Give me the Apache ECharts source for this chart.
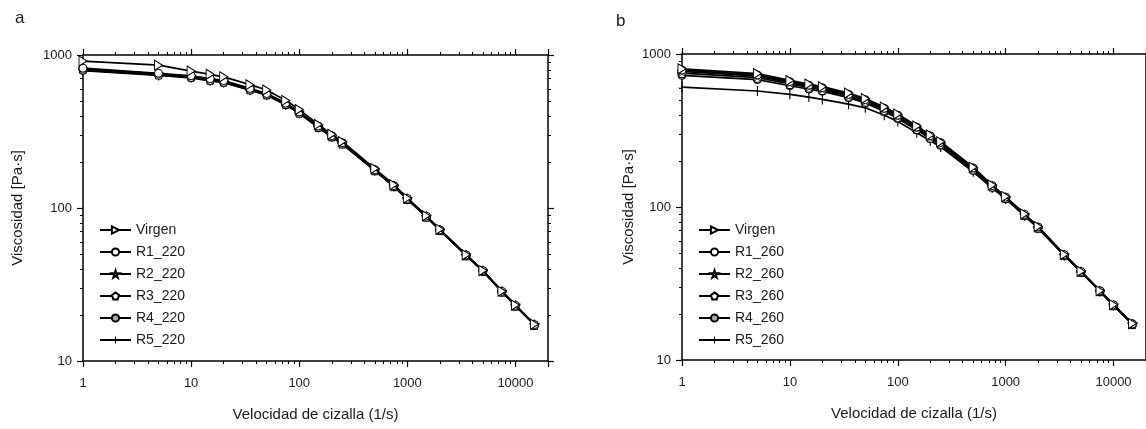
<!DOCTYPE html>
<html>
<head>
<meta charset="utf-8">
<script src="https://cdn.jsdelivr.net/npm/echarts@6/dist/echarts.min.js"></script>
<style>
html,body{margin:0;padding:0;background:#fff;}
#chart{width:1146px;height:429px;}
</style>
</head>
<body>
<div id="chart"></div>
<script>
// ---- data ----
const shearRate = [1,5,10,15,20,35,50,75,100,150,200,250,500,750,1000,1500,2000,3500,5000,7500,10000,15000];

const namesA = ['Virgen','R1_220','R2_220','R3_220','R4_220','R5_220'];
const virgenA = [912,858,785,748,720,640,590,505,440,352,303,272,181,142,116,89,72.5,49.5,39,28.6,23.2,17.4];
const r1A = [820,760,732,700,680,605,560,485,425,343,297,267,178,140,115.5,88.5,72,49.3,39,28.5,23.1,17.3];
const r2A = [812,752,726,694,675,600,556,481,422,341,295,265,177,139,115,88,71.8,49.2,38.9,28.5,23.1,17.3];
const r3A = [805,746,720,688,669,596,553,478,420,339,294,264,176.5,139,114.5,87.8,71.7,49.1,38.8,28.4,23.0,17.2];
const r4A = [797,740,714,683,664,592,549,475,417,337,292,263,176,138.5,114.3,87.6,71.6,49.0,38.8,28.4,23.0,17.2];
const r5A = [790,735,709,678,660,588,546,472,415,336,291,262,175.5,138,114,87.5,71.5,49.0,38.7,28.3,22.9,17.2];

const namesB = ['Virgen','R1_260','R2_260','R3_260','R4_260','R5_260'];
const virgenB = [800,745,672,636,612,555,512,450,405,338,296,267,182,139,117,90,74.5,49,38,28.4,23,17.3];
const r1B = [785,730,660,625,602,545,503,442,398,333,292,264,180,138,116,89.5,74,48.8,37.9,28.3,22.9,17.2];
const r2B = [770,716,650,615,593,537,496,436,392,328,288,260,178,137,115,89,73.5,48.6,37.8,28.2,22.9,17.2];
const r3B = [750,700,637,604,582,528,488,429,386,323,284,257,176,136,114.5,88.5,73.2,48.5,37.7,28.2,22.8,17.2];
const r4B = [725,680,620,590,570,518,478,421,379,318,280,254,174,135,114,88,73,48.4,37.6,28.1,22.8,17.1];
const r5B = [608,573,545,523,505,470,445,398,362,306,271,247,170,133,113,87.5,72.5,48.2,37.5,28.0,22.7,17.1];

const xTickLabels = [1,10,100,1000,10000];
const yTickLabels = [10,100,1000];
// ---- styles ----
const FONT = '"Liberation Sans", Arial, sans-serif';
const TXT = '#1a1a1a';
const symbols = [
  {symbol:'path://M0,0 L10,5 L0,10 Z', size:[8,10], fill:'#fff', bw:1},
  {symbol:'circle', size:8, fill:'#fff', bw:1},
  {symbol:'path://M50,0 L61,35 L98,35 L68,57 L79,91 L50,70 L21,91 L32,57 L2,35 L39,35 Z', size:10, fill:'#fff', bw:0.7},
  {symbol:'path://M50,0 L98,35 L79,91 L21,91 L2,35 Z', size:9, fill:'#fff', bw:1},
  {symbol:'circle', size:8, fill:'#a8a8a8', bw:1},
  {symbol:'path://M0,4.9 L10,4.9 L10,5.1 L0,5.1 Z M4.3,0 L5.7,0 L5.7,10 L4.3,10 Z', size:[8,10], fill:'#000', bw:0}
];

function makeSeries(names, arrays, gi){
  return arrays.map((arr, i) => ({
    type:'line', name:names[i],
    xAxisIndex: gi*2, yAxisIndex: gi*2,
    data: shearRate.map((x, k) => [x, arr[k]]),
    symbol: symbols[i].symbol, symbolSize: symbols[i].size, showAllSymbol:true,
    lineStyle:{color:'#000', width:1.7},
    itemStyle:{color:symbols[i].fill, borderColor:'#000', borderWidth: symbols[i].bw},
    emphasis:{disabled:true},
    z: 2 + (5-i)
  }));
}

function xAxes(gi){
  const base = {
    type:'log', logBase:10, min:1, max:20000, gridIndex:gi,
    axisLine:{show:true, lineStyle:{color:'#000', width:1.5}},
    axisTick:{show:true, inside:false, length:6, lineStyle:{color:'#000', width:1.2}},
    minorTick:{show:true, splitNumber:9, length:3, lineStyle:{color:'#000', width:1}},
    splitLine:{show:false}, minorSplitLine:{show:false}
  };
  return [
    Object.assign({}, base, {
      position:'bottom',
      axisLabel:{show:true, margin:16, fontSize:13, color:TXT, fontFamily:FONT, showMaxLabel:false,
        formatter: v => (xTickLabels.indexOf(Math.round(v))>=0 ? String(Math.round(v)) : '')},
      name:'Velocidad de cizalla (1/s)', nameLocation:'middle', nameGap:46,
      nameTextStyle:{fontSize:15, color:TXT, fontFamily:FONT}
    }),
    Object.assign({}, base, {position:'top', axisLabel:{show:false}})
  ];
}
function yAxes(gi, gap){
  const base = {
    type:'log', logBase:10, min:10, max:1000, gridIndex:gi,
    axisLine:{show:true, lineStyle:{color:'#000', width:1.5}},
    axisTick:{show:true, inside:false, length:6, lineStyle:{color:'#000', width:1.2}},
    minorTick:{show:true, splitNumber:9, length:3, lineStyle:{color:'#000', width:1}},
    splitLine:{show:false}, minorSplitLine:{show:false}
  };
  return [
    Object.assign({}, base, {
      position:'left',
      axisLabel:{show:true, margin:11, fontSize:13, color:TXT, fontFamily:FONT,
        formatter: v => (yTickLabels.indexOf(Math.round(v))>=0 ? String(Math.round(v)) : '')},
      name:'Viscosidad [Pa\u00b7s]', nameLocation:'middle', nameGap:gap, nameRotate:90,
      nameTextStyle:{fontSize:15, color:TXT, fontFamily:FONT}
    }),
    Object.assign({}, base, {position:'right', axisLabel:{show:false}})
  ];
}

function legend(names, left){
  return {
    orient:'vertical', left:left, top:216, itemWidth:31, itemHeight:9, itemGap:4,
    data:names, selectedMode:false,
    textStyle:{fontSize:14, color:TXT, fontFamily:FONT, lineHeight:18}
  };
}

const chart = echarts.init(document.getElementById('chart'), null, {renderer:'canvas'});
chart.setOption({
  animation:false,
  backgroundColor:'#fff',
  title:[
    {text:'a', left:10, top:5, textStyle:{fontSize:17, fontWeight:'normal', color:TXT, fontFamily:FONT}},
    {text:'b', left:611, top:8, textStyle:{fontSize:17, fontWeight:'normal', color:TXT, fontFamily:FONT}}
  ],
  grid:[
    {left:83, top:55, width:465, height:306},
    {left:682, top:54, width:467, height:306}
  ],
  legend:[legend(namesA, 94), legend(namesB, 693)],
  xAxis:[...xAxes(0), ...xAxes(1)],
  yAxis:[...yAxes(0, 58), ...yAxes(1, 46)],
  series:[
    ...makeSeries(namesA, [virgenA,r1A,r2A,r3A,r4A,r5A], 0),
    ...makeSeries(namesB, [virgenB,r1B,r2B,r3B,r4B,r5B], 1)
  ]
});
</script>
</body>
</html>
